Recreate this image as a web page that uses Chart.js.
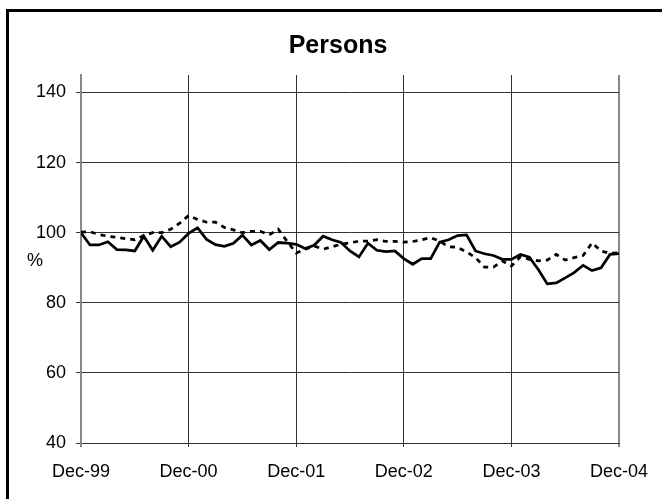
<!DOCTYPE html>
<html lang="en">
<head>
  <meta charset="UTF-8">
  <title>Persons</title>
  <style>
    body {
      margin: 0;
      background: #fff;
      overflow: hidden;
    }
    .wrap {
      position: relative;
      width: 662px;
      height: 499px;
      overflow: hidden;
    }
    .frame {
      position: absolute;
      left: 6px;
      top: 9px;
      width: 800px;
      height: 800px;
      border: 3px solid #000;
    }
    canvas {
      position: absolute;
      left: 0;
      top: 0;
    }
  </style>
  <script src="https://cdn.jsdelivr.net/npm/chart.js"></script>
</head>
<body>
  <div class="wrap">
    <div class="frame"></div>
    <canvas id="chart" width="662" height="499"></canvas>
  </div>

  <script>
    // monthly index values, Dec-99 .. Dec-04
    const tickLabels = ['Dec-99', 'Dec-00', 'Dec-01', 'Dec-02', 'Dec-03', 'Dec-04'];
    const series1 = [
      100, 96.5, 96.5, 97.4, 95.2, 95.1, 94.8, 99.0, 95.0, 99.0, 96.0, 97.3,
      99.8, 101.4, 98.1, 96.6, 96.1, 97.0, 99.3, 96.5, 97.8, 95.2, 97.2, 97.0,
      96.7, 95.5, 96.4, 99.0, 98.0, 97.2, 94.8, 93.1, 97.0, 95.0, 94.6, 94.8,
      92.6, 91.0, 92.6, 92.6, 97.3, 98.0, 99.2, 99.4, 94.8, 94.0, 93.5, 92.4,
      92.4, 93.8, 93.0, 89.5, 85.4, 85.7, 87.1, 88.6, 90.7, 89.2, 90.0, 93.8,
      94.0
    ];
    const series2 = [
      100.2, 100.3, 99.5, 99.0, 98.7, 98.3, 98.0, 99.2, 100.0, 100.0, 101.0, 102.7,
      104.9, 103.8, 103.0, 103.0, 101.5, 100.8, 100.0, 100.4, 100.4, 99.4, 101.0, 97.5,
      94.2, 95.3, 96.2, 95.3, 96.0, 96.7, 97.1, 97.6, 97.6, 98.0, 97.5, 97.5,
      97.3, 97.5, 98.0, 98.6, 97.6, 96.0, 95.8, 94.5, 92.9, 90.2, 90.2, 91.9,
      90.5, 93.1, 92.4, 92.0, 92.2, 93.8, 92.2, 92.9, 93.5, 97.1, 94.8, 94.1,
      94.3
    ];

    const FONT = 'Liberation Sans, Arial, sans-serif';
    const toPoints = arr => arr.map((v, i) => ({ x: i, y: v }));

    // title centred on the page and a horizontal "%" axis title, Excel style
    const labels = {
      id: 'labels',
      afterDraw(chart) {
        const { ctx, chartArea } = chart;
        ctx.save();
        ctx.fillStyle = '#000';
        ctx.textAlign = 'center';
        ctx.textBaseline = 'middle';
        ctx.font = 'bold 25px ' + FONT;
        ctx.fillText('Persons', 338, 46);
        ctx.font = '18px ' + FONT;
        ctx.fillText('%', 35, (chartArea.top + chartArea.bottom) / 2 + 2);
        ctx.restore();
      }
    };

    new Chart(document.getElementById('chart'), {
      type: 'line',
      data: {
        datasets: [
          {
            data: toPoints(series1),
            borderColor: '#000',
            borderWidth: 2.75,
            pointRadius: 0,
            tension: 0
          },
          {
            data: toPoints(series2),
            borderColor: '#000',
            borderWidth: 2.75,
            borderDash: [5, 5],
            pointRadius: 0,
            tension: 0
          }
        ]
      },
      options: {
        responsive: false,
        animation: false,
        layout: { padding: { left: 0, right: 41, top: 75, bottom: 0 } },
        plugins: {
          legend: { display: false },
          tooltip: { enabled: false },
          title: { display: false }
        },
        scales: {
          x: {
            type: 'linear',
            min: 0,
            max: 60,
            afterFit: s => { s.height = 56; },
            afterBuildTicks: s => {
              s.ticks = tickLabels.map((_, i) => ({ value: i * 12 }));
            },
            ticks: {
              color: '#000',
              font: { family: FONT, size: 18 },
              padding: 14,
              maxRotation: 0,
              callback: (v) => tickLabels[Math.round(v / 12)]
            },
            grid: {
              color: c => (c.index === 0 || c.index === tickLabels.length - 1) ? '#888' : '#333',
              lineWidth: c => (c.index === 0 || c.index === tickLabels.length - 1) ? 2 : 1,
              tickLength: 4
            },
            border: { color: '#333', width: 1 }
          },
          y: {
            min: 40,
            max: 145,
            afterFit: s => { s.width = 81; },
            ticks: {
              stepSize: 20,
              includeBounds: false,
              color: '#000',
              font: { family: FONT, size: 18 },
              padding: 10
            },
            grid: { color: '#333', lineWidth: 1, tickLength: 5 },
            border: { color: '#888', width: 2 }
          }
        }
      },
      plugins: [labels]
    });
  </script>
</body>
</html>
